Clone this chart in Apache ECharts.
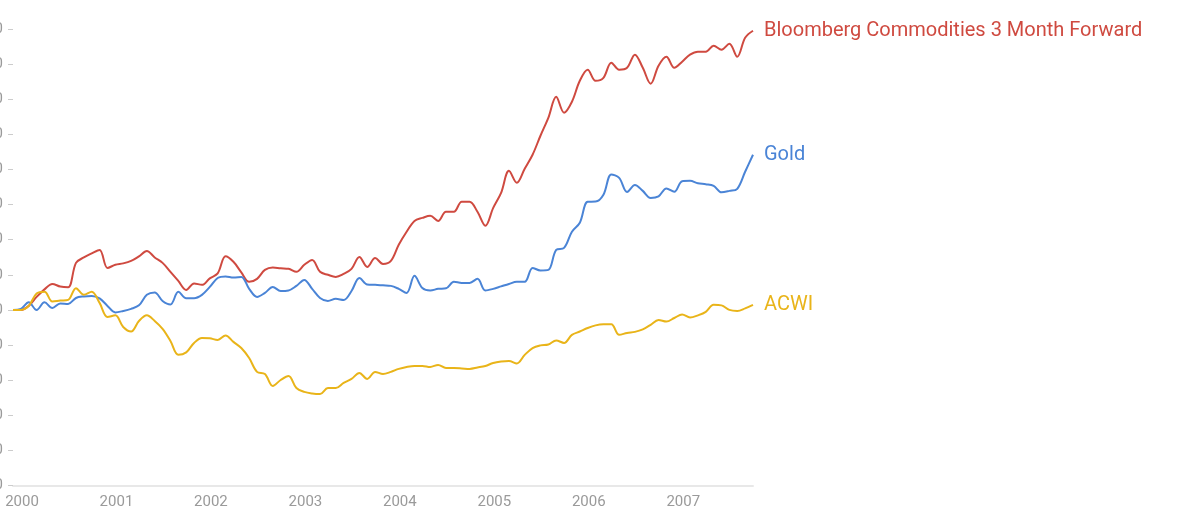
<!DOCTYPE html>
<html>
<head>
<meta charset="utf-8">
<script src="https://cdn.jsdelivr.net/npm/echarts@6/dist/echarts.min.js"></script>
<style>
html,body{margin:0;padding:0;background:#fff;}
#chart{width:1190px;height:527px;}
</style>
</head>
<body>
<div id="chart"></div>
<script>
// Month-end observations, Jan 2000 .. Nov 2007
const months = [];
for (let y = 2000; y <= 2007; y++) {
  for (let m = 1; m <= 12; m++) {
    if (y === 2007 && m > 11) break;
    months.push(y + '-' + String(m).padStart(2, '0'));
  }
}
const yearLabels = ['2000','2001','2002','2003','2004','2005','2006','2007'];

const commodities = [
  100,100,102.3,107.4,111.7,114.8,113.3,112.9,126.8,129.9,132.2,134.2,
  123.9,125.7,126.5,127.9,130.5,133.6,129.9,126.8,121.7,116.5,111.4,115.1,
  114.3,118,120.8,130.5,127.4,121.4,116,117.7,122.8,124.2,123.7,123.4,
  121.7,125.7,128.5,121.7,120,118.8,120.5,123.4,130.2,124.5,129.6,126.2,
  127.9,137.1,144.5,150.7,152.4,153.6,150.7,155.9,155.9,161.6,161.6,155.9,
  147.9,158.1,166.7,179.2,172.4,180.4,188.4,199.2,209.4,221.4,212.3,218.6,
  230.5,236.8,230.5,232.2,240.8,236.8,237.9,245.4,237.9,228.8,239.1,244.2,
  237.9,241.4,245.4,247.1,247.1,250.5,248.2,251.6,244.2,255,259
];
const gold = [
  100,100.6,104.3,100,104.3,101.1,103.7,103.4,106.8,107.7,108,106.6,
  102.3,98.6,99.4,100.6,102.6,108.6,109.9,105.1,103.1,110.3,106.7,106.7,
  108.6,113.1,118.2,119.1,118.5,118.8,112,107.4,109.7,113.1,110.8,111.1,
  113.7,117.1,112,106.8,105.1,106.3,105.7,110.8,118.2,114.5,114.3,114,
  113.7,112,109.7,119.4,112.5,111.1,112,112.3,116,115.4,115.4,117.7,
  111.1,112,113.4,114.8,116,116,123.9,122.5,122.8,134.2,135.3,144.5,
  149.6,161.6,161.7,165.6,177.2,175.2,167.2,171.2,167.8,163.8,164.7,169.2,
  167.3,173.3,173.5,172.1,171.6,170.7,167,167.8,169,178.7,188.4
];
const acwi = [
  100,100,102.3,109.4,110.4,104.8,105.3,105.7,112.4,108.6,110.4,104,
  96,96.9,90.3,87.7,93.7,96.9,93.7,89.2,82.3,74.4,75.8,81.2,
  84,83.8,82.9,85.5,81.8,78.3,72.6,64.7,63.5,56.7,60.1,62.4,
  55.5,53.3,52.4,52.1,55.5,55.5,58.4,60.7,64.1,60.7,64.7,63.5,
  64.7,66.4,67.5,68.1,68.1,67.5,68.7,66.9,66.9,66.7,66.4,67.2,
  68.1,69.8,70.6,70.9,69.5,74.4,78.3,79.8,80.3,82.6,81.2,85.8,
  87.7,89.7,91.2,91.8,91.8,85.8,86.9,87.5,88.9,91.5,94.3,93.4,
  95.4,97.4,95.7,96.9,98.9,102.9,102.6,100,99.4,100.9,102.9
];

const seriesDefs = [
  {name: 'Bloomberg Commodities 3 Month Forward', data: commodities, color: '#cf4a40'},
  {name: 'Gold', data: gold, color: '#4a84d6'},
  {name: 'ACWI', data: acwi, color: '#e9b419'}
];

const chart = echarts.init(document.getElementById('chart'), null, {renderer: 'canvas'});
const FONT = 'Roboto, "Noto Sans", sans-serif';
const option = {
  animation: false,
  backgroundColor: '#ffffff',
  grid: [
    {left: 13, right: 437, top: 29, bottom: 41.5, containLabel: false, outerBoundsMode: 'none'},
    {left: 5.13, right: 437, top: 29, bottom: 41.5, containLabel: false, outerBoundsMode: 'none'}
  ],
  xAxis: [
    {
      type: 'category', gridIndex: 0, data: months, boundaryGap: false,
      axisLine: {show: true, lineStyle: {color: '#e8e8e8', width: 2}},
      axisTick: {show: false}, axisLabel: {show: false}, splitLine: {show: false}
    },
    {
      type: 'value', gridIndex: 1, min: 0, max: 95, interval: 12,
      axisLine: {show: false}, axisTick: {show: false}, splitLine: {show: false},
      axisLabel: {
        show: true, align: 'left', margin: 9, color: '#9a9a9a', fontSize: 15, fontFamily: FONT,
        showMaxLabel: false,
        formatter: v => (v % 12 === 0 ? (yearLabels[v / 12] || '') : '')
      }
    }
  ],
  yAxis: [
    {
      type: 'value', gridIndex: 0, min: 0, max: 260, interval: 20,
      axisLine: {show: false},
      axisTick: {show: true, length: 5, lineStyle: {color: '#cccccc'}},
      splitLine: {show: false},
      axisLabel: {show: true, margin: 10, color: '#9a9a9a', fontSize: 15, fontFamily: FONT}
    },
    {type: 'value', gridIndex: 1, min: 0, max: 260, show: false}
  ],
  series: seriesDefs.map(s => ({
    name: s.name, type: 'line', xAxisIndex: 0, yAxisIndex: 0,
    data: s.data, smooth: 0.35, symbol: 'none',
    lineStyle: {color: s.color, width: 2},
    itemStyle: {color: s.color},
    endLabel: {
      show: true, formatter: '{a}', color: s.color, fontSize: 20,
      fontFamily: FONT, distance: 11
    }
  }))
};
chart.setOption(option);
</script>
</body>
</html>
